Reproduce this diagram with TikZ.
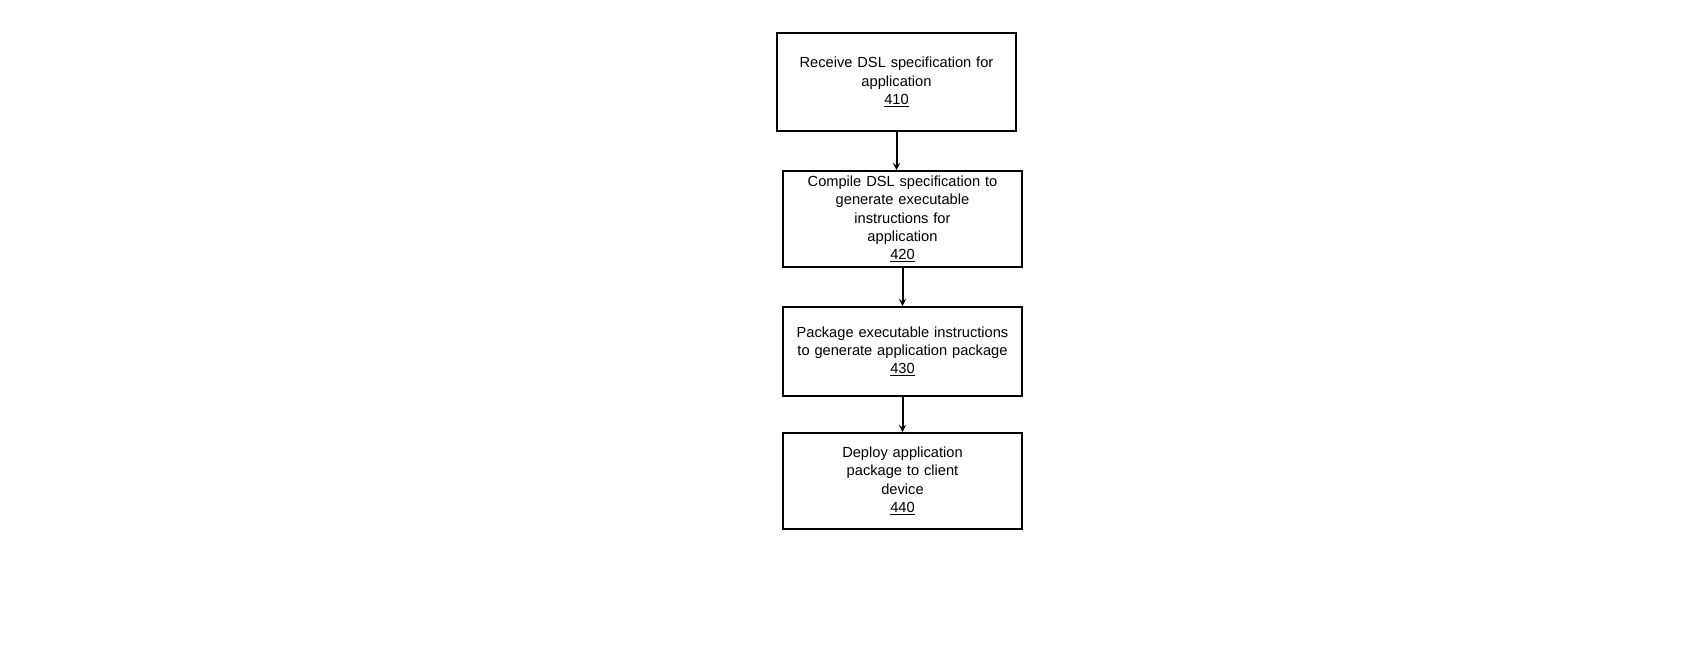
\documentclass[tikz,border=0pt]{standalone}
\usepackage{fontspec}
\setmainfont{Liberation Sans}
\usetikzlibrary{positioning}
\begin{document}
\begin{tikzpicture}[x=0.03cm, y=-0.03cm,
  stepbox/.style={draw, line width=0.5mm, align=center, minimum width=7.17cm, text width=6.6cm, font=\fontsize{12.5}{15.5}\selectfont},
  ->, >=stealth, line width=0.6mm,
  ]
  \useasboundingbox (0,0) rectangle (1700,650);
  % Schritte
  \node[stepbox, minimum width=7.17cm, minimum height=2.94cm] (Empfangen) at (896.5,82) {Receive DSL specification for\\application\\\underline{410}};
  \node[stepbox, minimum height=2.88cm] (Kompilieren) at (902.5,219) {Compile DSL specification to\\generate executable instructions for\\application\\\underline{420}};
  \node[stepbox, minimum height=2.67cm] (Paketieren) at (902.5,351.5) {Package executable instructions\\to generate application package\\\underline{430}};
  \node[stepbox, minimum height=2.88cm] (Verteilen) at (902.5,481) {Deploy application package to client\\device\\\underline{440}};
  % Übergänge
  \draw (Empfangen) -- (Empfangen|-Kompilieren.north);
  \draw (Kompilieren) -- (Paketieren);
  \draw (Paketieren) -- (Verteilen);
\end{tikzpicture}
\end{document}
